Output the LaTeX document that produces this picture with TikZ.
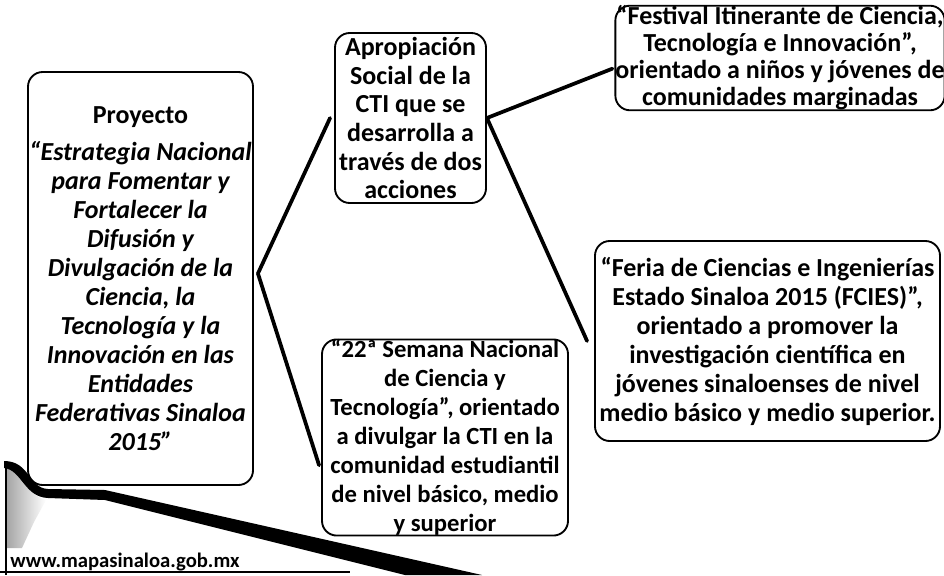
\documentclass[tikz,border=0pt]{standalone}
\usepackage{fontspec}
\setmainfont{Carlito}
\usetikzlibrary{calc}
\begin{document}
\begin{tikzpicture}[x=0.75pt,y=-0.75pt,
  box/.style={draw=black, line width=1.4pt, rounded corners=11pt, inner sep=0pt, align=center,
    font=\fontsize{19.5pt}{21.75pt}\selectfont\bfseries},
  link/.style={line width=2.8pt, line cap=round},
  webtext/.style={inner sep=0pt, anchor=west, font=\fontsize{15.5pt}{16pt}\selectfont\bfseries}]
\useasboundingbox (0,0) rectangle (944,575);
\fill[white] (0,0) rectangle (944,575);

% boxes
\node[box, minimum width=168.75pt, minimum height=309.75pt] (proj) at (140.5,278.5)
  {Proyecto\\[6pt]\itshape “Estrategia Nacional\\\itshape para Fomentar y\\\itshape Fortalecer la\\\itshape Difusión y\\\itshape Divulgación de la\\\itshape Ciencia, la\\\itshape Tecnología y la\\\itshape Innovación en las\\\itshape Entidades\\\itshape Federativas Sinaloa\\\itshape 2015”};

\node[box, minimum width=113.25pt, minimum height=127.5pt,
  font=\fontsize{19.5pt}{21.5pt}\selectfont\bfseries] (apro) at (410.5,118)
  {Apropiación\\Social de la\\CTI que se\\desarrolla a\\través de dos\\acciones};

\node[box, minimum width=243pt, minimum height=78pt,
  font=\fontsize{19.5pt}{20.25pt}\selectfont\bfseries] (fest) at (780,58)
  {“Festival Itinerante de Ciencia,\\Tecnología e Innovación”,\\orientado a niños y jóvenes de\\comunidades marginadas};

\node[box, minimum width=258.75pt, minimum height=150pt] (feria) at (767.5,341)
  {“Feria de Ciencias e Ingenierías\\Estado Sinaloa 2015 (FCIES)”,\\orientado a promover la\\investigación científica en\\jóvenes sinaloenses de nivel\\medio básico y medio superior.};

\node[box, minimum width=184.5pt, minimum height=146.25pt,
  font=\fontsize{18.5pt}{21.75pt}\selectfont\bfseries] (sem) at (445,437.5)
  {“22ª Semana Nacional\\de Ciencia y\\Tecnología”, orientado\\a divulgar la CTI en la\\comunidad estudiantil\\de nivel básico, medio\\y superior};

% connectors
\coordinate (j1) at ($(proj.east)+(4,-5)$);
\draw[link] (j1) -- ($(apro.west)+(-4,0)$);
\draw[link] (j1) -- ($(sem.north west)!0.64!(sem.south west)+(-2,0)$);
\draw[link] (apro.east) -- ($(fest.north west)!0.6!(fest.south west)+(-2,0)$);
\draw[link] (apro.east) -- ($(feria.west)+(-7,0)$);

% bottom-left decoration
\shade[left color=gray!70, right color=white]
  (7,468) .. controls (22,472) and (28,496) .. (46,500) -- (34,522) -- (22,548) -- (7,548) -- cycle;
\fill[black] (4,461) .. controls (30,461) and (28,488) .. (48,489) -- (105,490) -- (482,575)
  -- (405,575) -- (105,500) -- (48,498) .. controls (24,497) and (22,470) .. (4,468) -- cycle;
\draw[line width=1.6pt] (6,462) -- (6,575);
\draw[line width=1.6pt] (0,572) -- (350,572);
\node[webtext] (web) at (10,562) {www.mapasinaloa.gob.mx};
\end{tikzpicture}
\end{document}
